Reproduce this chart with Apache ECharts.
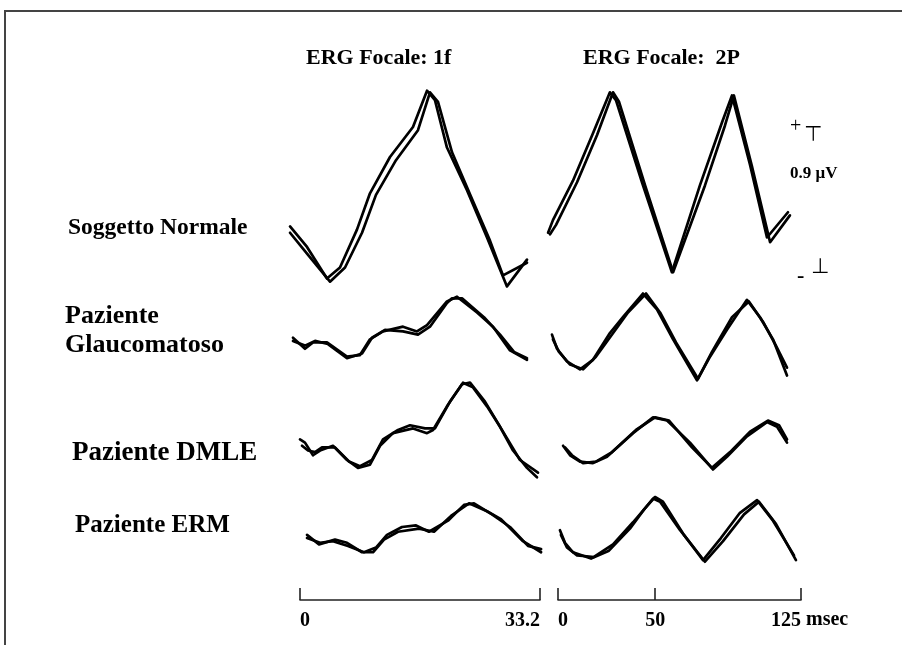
<!DOCTYPE html>
<html>
<head>
<meta charset="utf-8">
<script src="https://cdn.jsdelivr.net/npm/echarts@6/dist/echarts.min.js"></script>
<style>
html,body{margin:0;padding:0;background:#fff;}
#chart{width:902px;height:645px;}
</style>
</head>
<body>
<div id="chart"></div>
<script>
// ---- text ----
const columnTitles = ['ERG Focale: 1f', 'ERG Focale:  2P'];
const rowLabels = ['Soggetto Normale', 'Paziente\nGlaucomatoso', 'Paziente DMLE', 'Paziente ERM'];
const ticks1f = [0, 33.2];
const ticks2P = [0, 50, 125];
const timeUnit = 'msec';
const ampLabel = '0.9 \u03bcV';

// ---- traces: [time (ms), amplitude (uV)] two overlapping recordings per panel ----
const normal1fA = [[-1.38,-0.25],[0.97,-0.38],[3.73,-0.58],[5.53,-0.51],[7.88,-0.27],[9.68,-0.04],[12.45,0.19],[15.63,0.38],[17.57,0.61],[18.67,0.55],[20.33,0.25],[23.10,-0.02],[25.87,-0.32],[28.63,-0.63],[31.40,-0.46]];
const normal1fB = [[-1.38,-0.29],[1.11,-0.43],[4.15,-0.60],[6.23,-0.51],[8.58,-0.29],[10.51,-0.05],[13.28,0.17],[16.32,0.36],[17.98,0.60],[19.09,0.54],[21.03,0.22],[23.65,-0.06],[26.28,-0.34],[28.08,-0.56],[31.40,-0.48]];
const normal2PA = [[-5.1,-0.29],[-2.6,-0.21],[7.7,0.04],[18.0,0.34],[26.7,0.60],[29.8,0.55],[43.2,0.03],[58.6,-0.54],[73.0,0.01],[84.4,0.41],[89.5,0.58],[98.8,0.14],[107.5,-0.32],[118.3,-0.16]];
const normal2PB = [[-4.1,-0.30],[-1.0,-0.24],[9.8,0.03],[20.1,0.33],[28.3,0.60],[31.4,0.54],[44.8,0.01],[59.2,-0.54],[75.6,0.01],[85.9,0.39],[90.5,0.58],[99.8,0.13],[109.1,-0.35],[119.3,-0.18]];

const glauc1fA = [[-0.97,-0.03],[0.69,-0.10],[1.80,-0.06],[3.73,-0.06],[6.50,-0.15],[8.30,-0.14],[9.68,-0.04],[11.48,0.01],[14.25,0.04],[16.18,0.01],[17.57,0.05],[20.33,0.20],[21.72,0.23],[24.49,0.13],[26.70,0.04],[29.05,-0.11],[31.40,-0.17]];
const glauc1fB = [[-0.97,-0.05],[0.69,-0.08],[2.08,-0.05],[3.87,-0.07],[6.50,-0.16],[8.58,-0.13],[9.96,-0.03],[11.76,0.02],[14.25,0.01],[16.32,-0.01],[17.98,0.04],[20.33,0.19],[21.03,0.22],[22.41,0.22],[25.45,0.10],[27.67,-0.01],[29.60,-0.12],[31.40,-0.16]];
const glauc2PA = [[-3.1,-0.01],[-0.5,-0.10],[4.6,-0.18],[11.3,-0.23],[18.0,-0.17],[26.7,0.00],[33.4,0.10],[43.7,0.25],[50.9,0.15],[59.2,-0.04],[71.5,-0.30],[78.2,-0.15],[86.9,0.02],[97.2,0.21],[103.9,0.10],[110.6,-0.04],[117.8,-0.27]];
const glauc2PB = [[-2.6,-0.04],[0.5,-0.12],[6.2,-0.20],[12.9,-0.23],[19.5,-0.15],[27.8,-0.01],[36.0,0.13],[45.3,0.25],[52.5,0.13],[60.7,-0.06],[72.0,-0.29],[79.2,-0.12],[89.5,0.10],[98.2,0.20],[105.5,0.07],[112.1,-0.08],[117.8,-0.22]];

const dmle1fA = [[0,-0.06],[0.69,-0.08],[1.80,-0.16],[2.77,-0.13],[4.56,-0.10],[6.50,-0.19],[8.02,-0.24],[9.68,-0.22],[11.07,-0.10],[12.86,-0.02],[15.63,0.01],[17.57,-0.02],[18.40,0.00],[20.33,0.15],[22.55,0.30],[23.93,0.27],[25.87,0.15],[27.67,0.02],[29.47,-0.13],[31.40,-0.24],[32.78,-0.30]];
const dmle1fB = [[0.28,-0.10],[1.11,-0.13],[2.08,-0.14],[3.04,-0.11],[4.84,-0.11],[6.78,-0.20],[8.30,-0.23],[9.96,-0.19],[11.48,-0.06],[13.56,0.00],[15.22,0.03],[17.29,0.01],[18.67,0.01],[20.75,0.18],[22.41,0.29],[23.52,0.30],[25.59,0.18],[28.08,-0.01],[30.43,-0.19],[32.92,-0.27]];
const dmle2PA = [[2.6,-0.10],[6.2,-0.16],[11.3,-0.20],[18.0,-0.21],[25.2,-0.17],[38.6,-0.02],[48.9,0.08],[56.1,0.06],[67.9,-0.08],[79.7,-0.25],[86.9,-0.17],[97.2,-0.04],[107.5,0.05],[112.7,0.02],[117.8,-0.08]];
const dmle2PB = [[3.6,-0.11],[7.2,-0.16],[12.9,-0.21],[19.5,-0.20],[27.8,-0.14],[40.1,0.00],[49.9,0.08],[57.1,0.06],[68.9,-0.11],[79.2,-0.24],[88.5,-0.14],[98.8,-0.01],[108.0,0.06],[113.7,0.03],[117.8,-0.06]];

const erm1fA = [[0.97,-0.05],[2.63,-0.11],[4.84,-0.08],[6.50,-0.10],[8.58,-0.16],[10.10,-0.16],[11.62,-0.08],[13.56,-0.03],[16.46,-0.01],[18.54,-0.03],[20.89,0.07],[23.38,0.15],[25.87,0.10],[27.80,0.05],[30.85,-0.09],[33.35,-0.16]];
const erm1fB = [[0.97,-0.07],[2.77,-0.10],[4.56,-0.09],[6.64,-0.12],[8.85,-0.16],[10.51,-0.13],[12.03,-0.05],[14.11,0.00],[16.05,0.01],[17.84,-0.03],[20.47,0.04],[22.69,0.14],[24.07,0.15],[26.56,0.08],[29.05,0.00],[31.54,-0.12],[33.35,-0.14]];
const erm2PA = [[1.0,-0.02],[3.6,-0.10],[7.7,-0.16],[17.0,-0.20],[26.2,-0.15],[37.0,-0.01],[44.2,0.11],[48.9,0.18],[52.5,0.16],[62.8,-0.02],[75.6,-0.22],[84.9,-0.09],[95.7,0.08],[103.4,0.16],[112.1,0.02],[122.4,-0.21]];
const erm2PB = [[1.5,-0.05],[4.6,-0.13],[9.8,-0.18],[18.5,-0.19],[28.3,-0.11],[38.6,0.03],[46.3,0.14],[49.9,0.19],[54.0,0.16],[64.8,-0.05],[74.6,-0.21],[83.8,-0.07],[93.6,0.09],[102.4,0.17],[110.6,0.04],[121.4,-0.18]];

const panelData = [
  [[normal1fA, normal1fB], [normal2PA, normal2PB]],
  [[glauc1fA, glauc1fB], [glauc2PA, glauc2PB]],
  [[dmle1fA, dmle1fB], [dmle2PA, dmle2PB]],
  [[erm1fA, erm1fB], [erm2PA, erm2PB]]
];

// ---- layout ----
const colZero = [300, 558];          // pixel of t = 0
const colScaleMax = [33.2, 125];     // scale bar length (ms)
const colScaleWidth = [240, 243];    // scale bar length (px)
const colRange = [[-2, 34], [-6, 125]]; // trace axis extent (ms)
const rowCenter = [187, 333, 430, 527];
const pxPerUV = 157.8;
const yHalf = 0.7;
const serif = '"Liberation Serif", "Times New Roman", serif';

const grid = [], xAxis = [], yAxis = [], series = [];
panelData.forEach((row, r) => {
  row.forEach((traces, c) => {
    const gi = grid.length;
    const pxPerMs = colScaleWidth[c] / colScaleMax[c];
    const lo = colRange[c][0], hi = colRange[c][1];
    grid.push({left: colZero[c] + lo * pxPerMs, width: (hi - lo) * pxPerMs,
      top: rowCenter[r] - yHalf * pxPerUV, height: 2 * yHalf * pxPerUV});
    xAxis.push({gridIndex: gi, type: 'value', min: lo, max: hi, show: false});
    yAxis.push({gridIndex: gi, type: 'value', min: -yHalf, max: yHalf, show: false});
    traces.forEach(d => {
      series.push({type: 'line', xAxisIndex: gi, yAxisIndex: gi, data: d, showSymbol: false, clip: false,
        lineStyle: {color: '#000', width: 2.7, join: 'round', cap: 'round'}, silent: true, animation: false});
    });
  });
});

// scale bars
const tickSets = [ticks1f, ticks2P];
[0, 1].forEach(c => {
  const gi = grid.length;
  grid.push({left: colZero[c], width: colScaleWidth[c], top: 560, height: 40});
  xAxis.push({gridIndex: gi, type: 'value', min: 0, max: colScaleMax[c], position: 'bottom',
    axisLine: {show: true, lineStyle: {color: '#222', width: 1.6}},
    axisTick: {show: true, inside: true, length: 12, customValues: tickSets[c], lineStyle: {color: '#222', width: 1.6}},
    axisLabel: {show: true, customValues: tickSets[c], margin: 11, color: '#000', fontFamily: serif, fontWeight: 'bold', fontSize: 20,
      alignMinLabel: 'left', alignMaxLabel: 'right', formatter: v => String(v)},
    splitLine: {show: false}});
  yAxis.push({gridIndex: gi, type: 'value', min: 0, max: 1, show: false});
});

function label(text, left, midY, size, family, weight) {
  const lh = Math.round(size * 1.12);
  return {text: text, left: left, top: midY - lh / 2, padding: 0,
    textStyle: {fontFamily: family || serif, fontWeight: weight || 'bold', fontSize: size, color: '#000', lineHeight: lh}};
}
const sym = '"DejaVu Sans", sans-serif';

const titles = [
  label(columnTitles[0], 306, 58, 22),
  label(columnTitles[1], 583, 58, 22),
  label(rowLabels[0], 68, 228, 23.5),
  label(rowLabels[1], 65, 316, 26),
  label(rowLabels[2], 72, 453, 27),
  label(rowLabels[3], 75, 526, 25),
  label(ampLabel, 790, 174, 17),
  label('+', 790, 127, 20, serif, 'normal'),
  label('\u22a4', 804, 136, 21, sym, 'normal'),
  label('-', 797, 276, 22, serif, 'bold'),
  label('\u22a5', 811, 268, 21, sym, 'normal'),
  label(timeUnit, 806, 619.5, 20)
];

const chart = echarts.init(document.getElementById('chart'), null, {renderer: 'canvas'});
chart.setOption({
  backgroundColor: '#fff',
  animation: false,
  title: titles,
  grid: grid,
  xAxis: xAxis,
  yAxis: yAxis,
  series: series,
  graphic: [{type: 'rect', shape: {x: 5, y: 11, width: 1200, height: 1000}, style: {fill: 'none', stroke: '#444', lineWidth: 2}, silent: true}]
});
</script>
</body>
</html>
